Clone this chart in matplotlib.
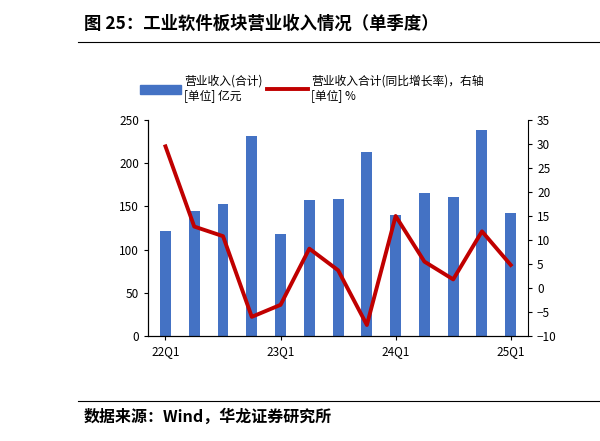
import matplotlib
matplotlib.use('Agg')
import matplotlib.pyplot as plt
from matplotlib.lines import Line2D
from matplotlib.patches import Patch

plt.rcParams['font.family'] = ['Noto Sans CJK SC', 'DejaVu Sans']

quarters = ['22Q1','22Q2','22Q3','22Q4','23Q1','23Q2','23Q3','23Q4','24Q1','24Q2','24Q3','24Q4','25Q1']
revenue = [122, 145, 153, 231, 118, 157, 158, 213, 140, 166, 161, 238, 142]
growth = [29.5, 12.8, 10.8, -6.0, -3.5, 8.2, 3.7, -7.7, 15.0, 5.5, 1.8, 11.8, 4.8]
tick_labels = ['22Q1', '23Q1', '24Q1', '25Q1']

fig = plt.figure(figsize=(6, 4.41), dpi=100)
fig.text(0.14, 0.945, '图 25：工业软件板块营业收入情况（单季度）', fontsize=12.5, fontweight='bold', va='center')
fig.text(0.14, 0.055, '数据来源：Wind，华龙证券研究所', fontsize=11.5, fontweight='bold', va='center')
fig.add_artist(Line2D([0.13, 1.0], [0.905, 0.905], color='black', lw=0.8))
fig.add_artist(Line2D([0.13, 1.0], [0.09, 0.09], color='black', lw=0.8))

ax = fig.add_axes([0.247, 0.238, 0.633, 0.49])
x = list(range(len(quarters)))
ax.bar(x, revenue, width=0.38, color='#4472C4')
ax.set_ylim(0, 250)
ax.set_yticks(range(0, 251, 50))
ax.set_xlim(-0.6, len(x) - 0.4)
ax.set_xticks([0, 4, 8, 12])
ax.set_xticklabels(tick_labels)
ax2 = ax.twinx()
ax2.plot(x, growth, color='#C00000', lw=2.8)
ax2.set_ylim(-10, 35)
ax2.set_yticks(range(-10, 36, 5))
for a in (ax, ax2):
    a.spines['top'].set_visible(False)
    a.tick_params(labelsize=8.5, direction='out', length=3)
ax.spines['right'].set_visible(False)

handles = [Patch(color='#4472C4'), Line2D([], [], color='#C00000', lw=2.8)]
fig.legend(handles, ['营业收入(合计)\n[单位] 亿元', '营业收入合计(同比增长率)，右轴\n[单位] %'],
           loc='upper left', bbox_to_anchor=(0.215, 0.855), ncol=2, frameon=False,
           fontsize=8.5, handlelength=3.5, columnspacing=0.3, handletextpad=0.3)
fig.savefig('out.png', dpi=100)
